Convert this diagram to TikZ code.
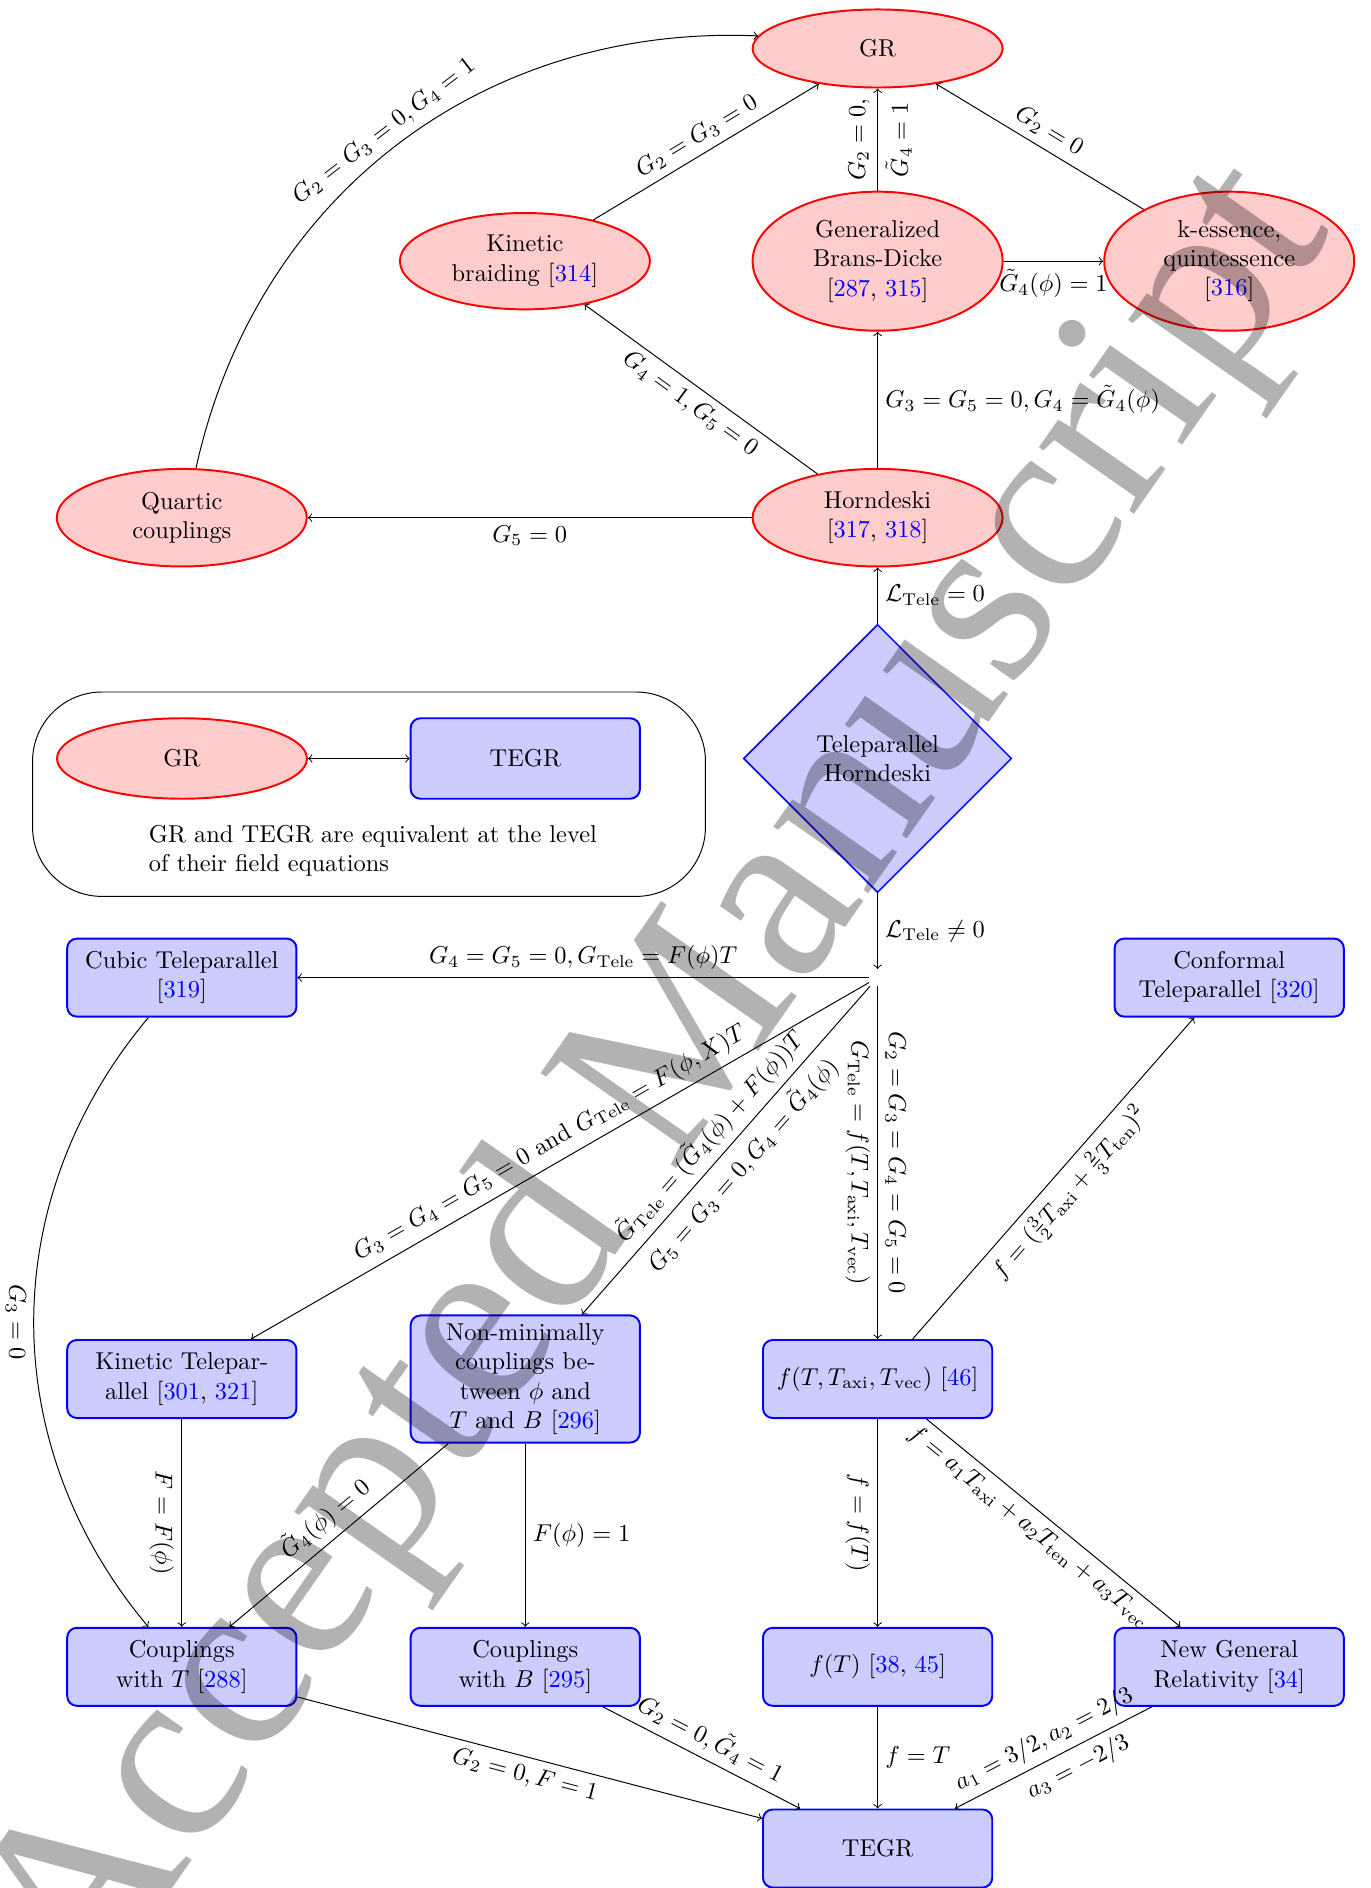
\documentclass[tikz,border=0pt]{standalone}
\usepackage{fontspec}
\newfontfamily\wmfont{Liberation Serif}
\usetikzlibrary{shapes.geometric}
\newcommand{\refc}[1]{\textcolor{blue}{#1}}
\begin{document}
\begin{tikzpicture}[x=0.41pt, y=-0.41pt,
  ell/.style={ellipse, draw=red, fill=red!20, thick, align=center, minimum width=102.5pt, inner sep=2pt},
  bx/.style={rectangle, rounded corners, draw=blue, fill=blue!20, thick, align=center, minimum width=94pt, minimum height=32pt},
  dia/.style={diamond, aspect=1, draw=blue, fill=blue!20, semithick, align=center, minimum width=110pt, minimum height=110pt},
  lbl/.style={inner sep=3pt},
  conn/.style={->}]
\useasboundingbox (0,0) rectangle (1370,1888);

% nodes
\node[ell, minimum height=32pt] (gr) at (877.6,48.5) {GR};
\node[ell, minimum height=39.5pt] (kb) at (524.9,261.2) {Kinetic\\braiding [\refc{314}]};
\node[ell, minimum height=57pt] (bd) at (877.6,261.2) {Generalized\\Brans-Dicke\\{[}\refc{287}, \refc{315}{]}};
\node[ell, minimum height=57pt] (ke) at (1229.2,261.2) {k-essence,\\quintessence\\{[}\refc{316}{]}};
\node[ell, minimum height=40pt] (quartic) at (181.8,517.7) {Quartic\\couplings};
\node[ell, minimum height=40pt] (horn) at (877.6,517.7) {Horndeski\\{[}\refc{317}, \refc{318}{]}};
\node[dia] (dia) at (877.6,758.5) {Teleparallel\\Horndeski};

\node[draw, rounded corners=1cm, minimum width=275.9pt, minimum height=83.8pt] (legend) at (369,794.2) {};
\node[ell, minimum height=33pt] (leggr) at (182,758.5) {GR};
\node[bx, minimum height=33pt] (legtegr) at (525.3,758.5) {TEGR};
\node[anchor=north west, inner sep=0pt, align=left] (legtext) at (148.5,824.8) {GR and TEGR are equivalent at the level\\of their field equations};

\node (hub) at (877.6,977.6) {};
\node[bx] (cubic) at (181.8,977.6) {Cubic Teleparallel\\{[}\refc{319}{]}};
\node[bx] (conf) at (1229.2,977.6) {Conformal\\Teleparallel [\refc{320}]};
\node[bx] (kintel) at (181.8,1379) {Kinetic Telepar-\\allel [\refc{301}, \refc{321}]};
\node[bx] (nonmin) at (525.3,1379) {Non-minimally\\couplings be-\\tween $\phi$ and\\$T$ and $B$ [\refc{296}]};
\node[bx] (ftx) at (877.6,1379) {$f(T,T_{\mathrm{axi}},T_{\mathrm{vec}})$ [\refc{46}]};
\node[bx] (coupt) at (181.8,1666.8) {Couplings\\with $T$ [\refc{288}]};
\node[bx] (coupb) at (525.3,1666.8) {Couplings\\with $B$ [\refc{295}]};
\node[bx] (ft) at (877.6,1666.8) {$f(T)$ [\refc{38}, \refc{45}]};
\node[bx] (ngr) at (1229.2,1666.8) {New General\\Relativity [\refc{34}]};
\node[bx] (tegr) at (877.6,1848.5) {TEGR};

% upper connectors
\draw[conn] (quartic) to[bend left=40] node[lbl, midway, above, sloped] {$G_2 = G_3 = 0, G_4 = 1$} (gr);
\draw[conn] (kb) -- node[lbl, midway, above, sloped] {$G_2 = G_3 = 0$} (gr);
\draw[conn] (bd) -- node[lbl, midway, above, sloped] {$G_2 = 0,$} node[lbl, midway, below, sloped] {$\tilde{G}_4 = 1$} (gr);
\draw[conn] (ke) -- node[lbl, midway, above, sloped] {$G_2 = 0$} (gr);
\draw[conn] (bd) -- node[lbl, midway, below] {$\tilde{G}_4(\phi) = 1$} (ke);
\draw[conn] (horn) -- node[lbl, midway, right] {$G_3 = G_5 = 0, G_4 = \tilde{G}_4(\phi)$} (bd);
\draw[conn] (horn) -- node[lbl, midway, below, sloped] {$G_4 = 1, G_5 = 0$} (kb);
\draw[conn] (horn) -- node[lbl, midway, below] {$G_5 = 0$} (quartic);
\draw[conn] (dia) -- node[lbl, midway, right] {$\mathcal{L}_{\mathrm{Tele}} = 0$} (horn);
\draw[<->] (leggr) -- (legtegr);

% lower connectors
\draw[conn] (dia) -- node[lbl, midway, right] {$\mathcal{L}_{\mathrm{Tele}} \neq 0$} (hub);
\draw[conn] (hub) -- node[lbl, midway, above] {$G_4 = G_5 = 0, G_{\mathrm{Tele}} = F(\phi)T$} (cubic);
\draw[conn] (hub) -- node[lbl, midway, above, sloped] {$G_3 = G_4 = G_5 = 0$ and $G_{\mathrm{Tele}} = F(\phi, X)T$} (kintel);
\draw[conn] (hub) -- node[lbl, midway, above, sloped] {$\tilde{G}_{\mathrm{Tele}} = (\tilde{G}_4(\phi) + F(\phi))T$} node[lbl, midway, below, sloped] {$G_5 = G_3 = 0, G_4 = \tilde{G}_4(\phi)$} (nonmin);
\draw[conn] (hub) -- node[lbl, midway, above, sloped] {$G_2 = G_3 = G_4 = G_5 = 0$} node[lbl, midway, below, sloped] {$G_{\mathrm{Tele}} = f(T, T_{\mathrm{axi}}, T_{\mathrm{vec}})$} (ftx);
\draw[conn] (ftx) -- node[lbl, midway, below, sloped] {$f = (\frac{3}{2}T_{\mathrm{axi}} + \frac{2}{3}T_{\mathrm{ten}})^2$} (conf);
\draw[conn] (ftx) -- node[lbl, midway, below, sloped] {$f = f(T)$} (ft);
\draw[conn] (ftx) -- node[lbl, pos=0.45, below, sloped] {$f = a_1T_{\mathrm{axi}} + a_2T_{\mathrm{ten}} + a_3T_{\mathrm{vec}}$} (ngr);
\draw[conn] (cubic) to[bend right=40] node[lbl, midway, below, sloped] {$G_3 = 0$} (coupt);
\draw[conn] (kintel) -- node[lbl, midway, below, sloped] {$F = F(\phi)$} (coupt);
\draw[conn] (nonmin) -- node[lbl, midway, above, sloped] {$\tilde{G}_4(\phi) = 0$} (coupt);
\draw[conn] (nonmin) -- node[lbl, midway, right] {$F(\phi) = 1$} (coupb);
\draw[conn] (coupt) -- node[lbl, midway, below, sloped] {$G_2 = 0, F = 1$} (tegr);
\draw[conn] (coupb) -- node[lbl, midway, above, sloped] {$G_2 = 0, \tilde{G}_4 = 1$} (tegr);
\draw[conn] (ft) -- node[lbl, midway, right] {$f = T$} (tegr);
\draw[conn] (ngr) -- node[lbl, midway, above, sloped] {$a_1 = 3/2, a_2 = 2/3$} node[lbl, pos=0.42, below, sloped] {$a_3 = -2/3$} (tegr);

% watermark
\node[font=\wmfont\fontsize{103.7pt}{110pt}\selectfont, rotate=55, anchor=base west, inner sep=0pt, text=black, text opacity=0.3] (wm) at (88,2009) {Accepted Manuscript};
\end{tikzpicture}
\end{document}
